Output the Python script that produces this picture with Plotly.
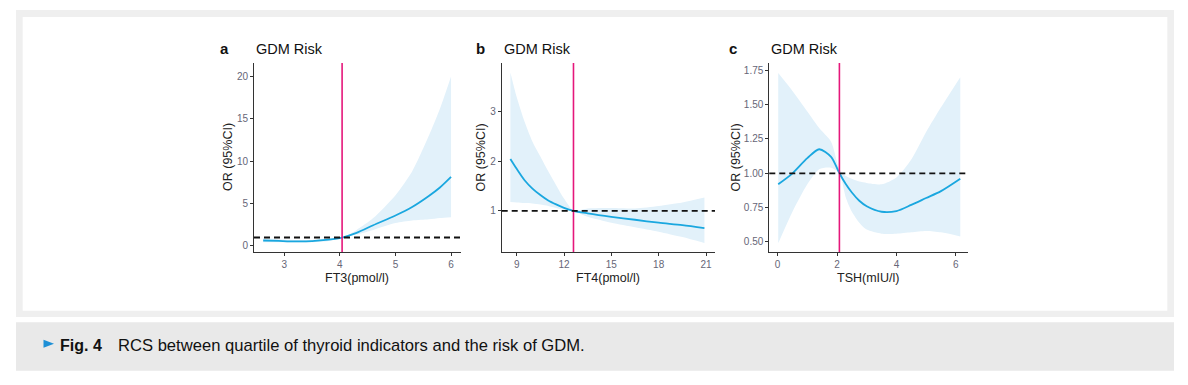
import plotly.graph_objects as go

W, H = 1188, 385

# ---------------- data ----------------
# Panel a: FT3
ft3_x = [2.62, 2.9, 3.2, 3.5, 3.8, 4.04, 4.3, 4.6, 5.0, 5.3, 5.6, 5.8, 6.0]
ft3_or = [0.65, 0.6, 0.55, 0.58, 0.75, 1.0, 1.55, 2.45, 3.6, 4.6, 5.9, 6.9, 8.15]
ft3_lo = [0.45, 0.45, 0.42, 0.45, 0.6, 1.0, 1.35, 1.9, 2.7, 3.0, 3.15, 3.3, 3.4]
ft3_hi = [0.9, 0.8, 0.72, 0.72, 0.9, 1.0, 1.9, 3.3, 6.0, 8.8, 13.0, 16.2, 20.0]
ft3_ref = 4.04

# Panel b: FT4
ft4_x = [8.6, 9.0, 9.5, 10, 10.5, 11, 11.5, 12, 12.6, 13.5, 15, 16.5, 18, 19.5, 20.9]
ft4_or = [2.05, 1.85, 1.62, 1.45, 1.32, 1.21, 1.13, 1.06, 1.0, 0.95, 0.88, 0.82, 0.76, 0.71, 0.65]
ft4_lo = [1.18, 1.17, 1.16, 1.15, 1.13, 1.1, 1.06, 1.02, 0.99, 0.88, 0.76, 0.67, 0.58, 0.47, 0.35]
ft4_hi = [3.8, 3.3, 2.8, 2.4, 2.1, 1.8, 1.52, 1.25, 1.01, 1.05, 1.06, 1.05, 1.1, 1.17, 1.27]
ft4_ref = 12.6

# Panel c: TSH
tsh_x = [0.02, 0.5, 1.0, 1.4, 1.8, 2.08, 2.3, 2.5, 2.75, 3.0, 3.5, 4.0, 4.5, 5.0, 5.5, 6.15]
tsh_or = [0.92, 1.0, 1.11, 1.175, 1.12, 1.0, 0.92, 0.86, 0.8, 0.76, 0.72, 0.725, 0.77, 0.82, 0.87, 0.96]
tsh_lo = [0.49, 0.72, 0.92, 1.03, 1.04, 1.0, 0.82, 0.72, 0.64, 0.59, 0.56, 0.56, 0.57, 0.58, 0.57, 0.54]
tsh_hi = [1.73, 1.6, 1.45, 1.33, 1.23, 1.03, 0.98, 0.96, 0.94, 0.93, 0.92, 0.97, 1.1, 1.3, 1.48, 1.70]
tsh_ref = 2.08

or_null = 1.0

ticks_a_x = [3, 4, 5, 6]
ticks_a_y = [0, 5, 10, 15, 20]
ticks_b_x = [9, 12, 15, 18, 21]
ticks_b_y = [1, 2, 3]
ticks_c_x = [0, 2, 4, 6]
ticks_c_y = [0.5, 0.75, 1.0, 1.25, 1.5, 1.75]
ticks_c_y_text = ["0.50", "0.75", "1.00", "1.25", "1.50", "1.75"]

panel_letters = ["a", "b", "c"]
panel_title = "GDM Risk"
x_titles = ["FT3(pmol/l)", "FT4(pmol/l)", "TSH(mIU/l)"]
y_title = "OR (95%CI)"
caption_fig = "Fig. 4"
caption_text = "RCS between quartile of thyroid indicators and the risk of GDM."

# ---------------- layout helpers ----------------
def px(x):
    return x / W

def py(y):
    return 1 - y / H

LINE = "#1AA7DF"
RIBBON = "#E2F1FA"
RED = "#E5177B"
FONT = "Liberation Sans, Arial, sans-serif"

panels = [
    dict(x0=254, x1=460.5, xr=[2.455, 6.17], yr=[-0.71, 21.6],
         xt=ticks_a_x, yt=ticks_a_y, ytt=None,
         x=ft3_x, m=ft3_or, lo=ft3_lo, hi=ft3_hi, ref=ft3_ref,
         letter_x=218, ytitle_x=227.5),
    dict(x0=501.7, x1=715, xr=[8.05, 21.57], yr=[0.168, 3.99],
         xt=ticks_b_x, yt=ticks_b_y, ytt=None,
         x=ft4_x, m=ft4_or, lo=ft4_lo, hi=ft4_hi, ref=ft4_ref,
         letter_x=474, ytitle_x=480),
    dict(x0=769.3, x1=968.3, xr=[-0.28, 6.42], yr=[0.427, 1.803],
         xt=ticks_c_x, yt=ticks_c_y, ytt=ticks_c_y_text,
         x=tsh_x, m=tsh_or, lo=tsh_lo, hi=tsh_hi, ref=tsh_ref,
         letter_x=727, ytitle_x=735),
]
TOP, BOT = 63, 252

fig = go.Figure()
shapes = []
annotations = []

# frames
shapes.append(dict(type="rect", xref="paper", yref="paper", layer="below",
                   x0=px(16), x1=px(1174), y0=py(317), y1=py(10),
                   fillcolor="#EFEFEF", line=dict(width=0)))
shapes.append(dict(type="rect", xref="paper", yref="paper", layer="below",
                   x0=px(22.7), x1=px(1167.3), y0=py(310.7), y1=py(17),
                   fillcolor="#FFFFFF", line=dict(width=0)))
shapes.append(dict(type="rect", xref="paper", yref="paper", layer="below",
                   x0=px(16), x1=px(1174), y0=py(370.7), y1=py(322.3),
                   fillcolor="#E9E9E9", line=dict(width=0)))
# caption triangle
shapes.append(dict(type="path", xref="paper", yref="paper", layer="above",
                   path=f"M {px(43.5)},{py(339.8)} L {px(54)},{py(343.8)} L {px(43.5)},{py(347.8)} Z",
                   fillcolor="#1E90D6", line=dict(width=0)))

for i, p in enumerate(panels):
    n = "" if i == 0 else str(i + 1)
    xa, ya = "x" + n, "y" + n
    fig.add_trace(go.Scatter(x=p["x"], y=p["hi"], mode="lines", line=dict(width=0, shape="spline", smoothing=0.7),
                             xaxis=xa, yaxis=ya, showlegend=False, hoverinfo="skip"))
    fig.add_trace(go.Scatter(x=p["x"], y=p["lo"], mode="lines", line=dict(width=0, shape="spline", smoothing=0.7),
                             fill="tonexty", fillcolor=RIBBON,
                             xaxis=xa, yaxis=ya, showlegend=False, hoverinfo="skip"))
    fig.add_trace(go.Scatter(x=p["x"], y=p["m"], mode="lines", line=dict(width=1.8, color=LINE, shape="spline", smoothing=0.8),
                             xaxis=xa, yaxis=ya, showlegend=False))
    axcommon = dict(showline=True, linecolor="#333333", linewidth=1, ticks="outside", ticklen=3,
                    tickcolor="#333333", tickwidth=1, showgrid=False, zeroline=False,
                    tickfont=dict(family=FONT, size=10, color="#666677"))
    xkey = "xaxis" + n
    ykey = "yaxis" + n
    fig.layout[xkey] = dict(domain=[px(p["x0"]), px(p["x1"])], range=p["xr"], tickvals=p["xt"],
                            anchor=ya, **axcommon)
    ydict = dict(domain=[py(BOT), py(TOP)], range=p["yr"], tickvals=p["yt"], anchor=xa, **axcommon)
    if p["ytt"] is not None:
        ydict["ticktext"] = p["ytt"]
    fig.layout[ykey] = ydict
    # reference lines
    shapes.append(dict(type="line", xref=xa, yref=ya + " domain", x0=p["ref"], x1=p["ref"], y0=0, y1=1,
                       line=dict(color=RED, width=1.6)))
    shapes.append(dict(type="line", xref=xa + " domain", yref=ya, x0=0, x1=1, y0=or_null, y1=or_null,
                       line=dict(color="#111111", width=1.8, dash="6px,4px")))
    # titles
    annotations.append(dict(text="<b>" + panel_letters[i] + "</b>", xref="paper", yref="paper",
                            x=px(p["letter_x"]), y=py(49), xanchor="left", yanchor="middle", showarrow=False,
                            font=dict(family=FONT, size=15, color="#111111")))
    annotations.append(dict(text=panel_title, xref="paper", yref="paper",
                            x=px(p["x0"]), y=py(49), xanchor="left", yanchor="middle", showarrow=False,
                            font=dict(family=FONT, size=14.5, color="#111111")))
    annotations.append(dict(text=x_titles[i], xref="paper", yref="paper",
                            x=px((p["x0"] + p["x1"]) / 2), y=py(278), xanchor="center", yanchor="middle",
                            showarrow=False, font=dict(family=FONT, size=12.5, color="#222222")))
    annotations.append(dict(text=y_title, xref="paper", yref="paper", textangle=-90,
                            x=px(p["ytitle_x"]), y=py((TOP + BOT) / 2), xanchor="center", yanchor="middle",
                            showarrow=False, font=dict(family=FONT, size=12.5, color="#222222")))

annotations.append(dict(text="<b>" + caption_fig + "</b>", xref="paper", yref="paper",
                        x=px(58), y=py(345), xanchor="left", yanchor="middle", showarrow=False,
                        font=dict(family=FONT, size=16, color="#111111")))
annotations.append(dict(text=caption_text, xref="paper", yref="paper",
                        x=px(116), y=py(345), xanchor="left", yanchor="middle", showarrow=False,
                        font=dict(family=FONT, size=16.6, color="#111111")))

fig.update_layout(width=W, height=H, margin=dict(l=0, r=0, t=0, b=0),
                  paper_bgcolor="#FFFFFF", plot_bgcolor="rgba(0,0,0,0)",
                  shapes=shapes, annotations=annotations, showlegend=False)

fig.write_html("out.html", config={"displayModeBar": False},
               post_script="document.body.style.margin='0';")
